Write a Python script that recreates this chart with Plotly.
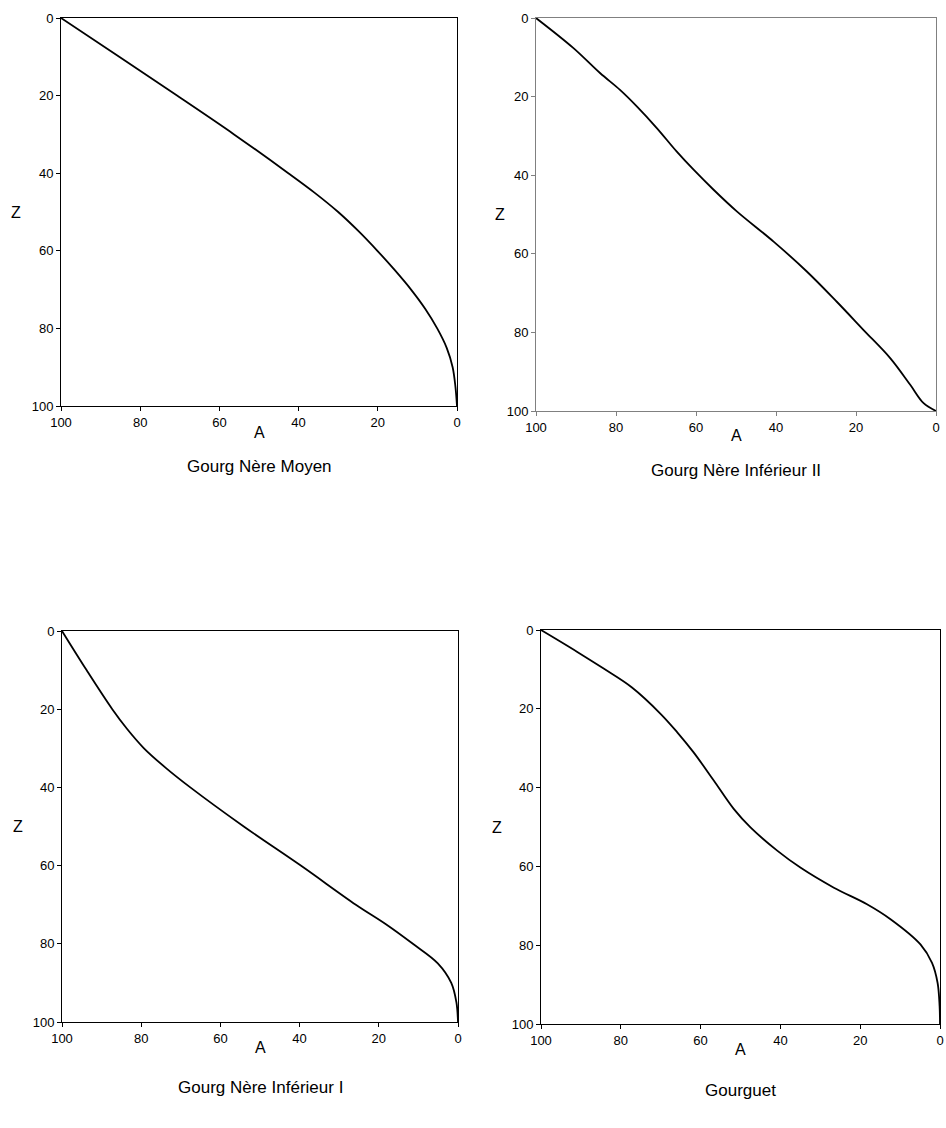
import plotly.graph_objects as go

# Panel 1: Gourg Nère Moyen
a1 = [100, 85.3, 70.7, 56.3, 42.6, 36.0, 30.0, 24.8, 20.1, 15.7, 11.6, 8.0, 5.0, 2.6, 1.1, 0.4, 0]
z1 = [0, 10, 20, 30, 40, 45, 50, 55, 60, 65, 70, 75, 80, 85, 90, 95, 100]

# Panel 2: Gourg Nère Inférieur II
a2 = [100, 90.7, 84.0, 79.0, 74.8, 69.8, 64.8, 60.6, 55.6, 49.8, 40.6, 32.3, 24.8, 18.1, 11.4, 6.4, 3.1, 0]
z2 = [0, 7.6, 14.0, 18.3, 22.5, 28.0, 34.0, 38.6, 43.7, 49.2, 56.9, 64.5, 72.2, 79.4, 86.6, 93.4, 98.0, 100]

# Panel 3: Gourg Nère Inférieur I
a3 = [100, 93.8, 87.3, 83.6, 79.3, 73.8, 67.6, 54.1, 39.7, 25.8, 18.2, 11.4, 5.1, 1.7, 0.4, 0]
z3 = [0, 10, 20, 25, 30, 35, 40, 50, 60, 70, 75, 80, 85, 90, 95, 100]

# Panel 4: Gourguet
a4 = [100, 91.0, 84.3, 77.2, 70.1, 65.9, 61.8, 56.7, 51.7, 47.5, 40.8, 35.0, 26.6, 18.3, 12.4, 4.9, 2.0, 0.6, 0.1, 0]
z4 = [0, 5.5, 9.8, 14.6, 21.2, 25.9, 31.0, 38.2, 45.4, 50.1, 56.0, 60.3, 65.4, 69.6, 73.4, 79.8, 84.5, 89.6, 95.5, 100]

titles = ["Gourg Nère Moyen", "Gourg Nère Inférieur II", "Gourg Nère Inférieur I", "Gourguet"]
tickvals = [0, 20, 40, 60, 80, 100]
ticktext = ["0", "20", "40", "60", "80", "100"]

W, H = 946, 1128
# pixel boxes: (left, right, top, bottom)
boxes = [(61, 457, 18, 406), (536, 936, 18, 411), (62, 458, 631, 1022), (541, 940, 630, 1024)]
line_colors = ["#000000", "#808080", "#000000", "#000000"]
# label pixel positions
a_label_y = [432, 435, 1047, 1049]
title_y = [466, 470, 1087, 1090]
z_label_x = [16, 500, 18, 497]

FONT = "Liberation Sans, Arial"
fig = go.Figure()
data = [(a1, z1), (a2, z2), (a3, z3), (a4, z4)]
for i, (a, z) in enumerate(data):
    n = "" if i == 0 else str(i + 1)
    fig.add_trace(go.Scatter(x=a, y=z, mode="lines", line=dict(color="black", width=1.8, shape="spline", smoothing=1.0),
                             xaxis="x" + n, yaxis="y" + n, showlegend=False, hoverinfo="skip"))
    l, r, t, b = boxes[i]
    common = dict(range=[100, 0], showline=True, mirror=True, linecolor=line_colors[i], linewidth=1,
                  ticks="outside", ticklen=4, tickcolor=line_colors[i], tickvals=tickvals, ticktext=ticktext,
                  showgrid=False, zeroline=False, automargin=False,
                  tickfont=dict(family=FONT, size=13, color="black"))
    fig.update_layout(**{
        "xaxis" + n: dict(domain=[l / W, r / W], anchor="y" + n, **common),
        "yaxis" + n: dict(domain=[1 - b / H, 1 - t / H], anchor="x" + n, **common),
    })
    cx = (l + r) / 2
    ann = dict(xref="paper", yref="paper", showarrow=False, xanchor="center", yanchor="middle")
    fig.add_annotation(x=cx / W, y=1 - a_label_y[i] / H, text="A",
                       font=dict(family=FONT, size=16, color="black"), **ann)
    fig.add_annotation(x=cx / W, y=1 - title_y[i] / H, text=titles[i],
                       font=dict(family=FONT, size=17, color="black"), **ann)
    fig.add_annotation(x=z_label_x[i] / W, y=1 - ((t + b) / 2) / H, text="Z",
                       font=dict(family=FONT, size=16, color="black"), **ann)

fig.update_layout(width=W, height=H, margin=dict(l=0, r=0, t=0, b=0, autoexpand=False),
                  plot_bgcolor="white", paper_bgcolor="white")
fig.write_html("out.html")
